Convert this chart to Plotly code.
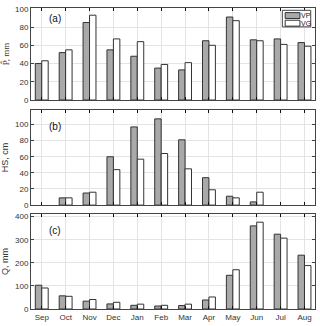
import plotly.graph_objects as go

months = ["Sep", "Oct", "Nov", "Dec", "Jan", "Feb", "Mar", "Apr", "May", "Jun", "Jul", "Aug"]

# precipitation, mm
p_vp = [40, 52, 85, 55, 48, 35, 33, 65, 91, 66, 67, 63]
p_vg = [43, 55, 93, 67, 64, 39, 41, 60, 87, 65, 61, 59]

# snow depth, cm
hs_vp = [0, 9, 15, 60, 97, 107, 81, 34, 11, 4, 0, 0]
hs_vg = [0, 9, 16, 44, 57, 64, 45, 19, 9, 16, 0, 0]

# runoff, mm
q_vp = [103, 57, 34, 22, 16, 13, 15, 39, 146, 360, 324, 233]
q_vg = [91, 55, 41, 29, 21, 16, 21, 52, 170, 376, 307, 188]

series_names = ["VP", "VG"]
bar_colors = ["#a9a9a9", "white"]

panels = [
    (p_vp, p_vg, "(a)", [0, 101], [0, 20, 40, 60, 80, 100]),
    (hs_vp, hs_vg, "(b)", [0, 118], [0, 20, 40, 60, 80, 100]),
    (q_vp, q_vg, "(c)", [0, 412], [0, 100, 200, 300, 400]),
]
domains = [[0.692, 0.997], [0.344, 0.659], [0.0, 0.315]]
label_y = [0.89, 0.825, 0.83]
ytitles = ["P̂, mm", "HS, cm", "Q, mm"]

fig = go.Figure()
edge = "#333333"
for i, (vp, vg, lab, yr, yt) in enumerate(panels):
    n = "" if i == 0 else str(i + 1)
    for vals, name, col in zip([vp, vg], series_names, bar_colors):
        # no outline for empty bars
        lw = [1 if v > 0 else 0 for v in vals]
        fig.add_trace(go.Bar(x=months, y=vals, name=name,
                             marker=dict(color=col, line=dict(color=edge, width=lw)),
                             xaxis="x" + n, yaxis="y" + n, showlegend=False))
    fig.update_layout(**{
        "xaxis" + n: dict(anchor="y" + n, range=[-0.45, 11.44], showticklabels=(i == 2),
                          ticks="inside", ticklen=3, tickcolor="#111", mirror="ticks",
                          showline=True, linecolor="#444", linewidth=1,
                          showgrid=True, gridcolor="#e4e4e4", gridwidth=1,
                          tickfont=dict(size=8, color="#333", family="Liberation Sans")),
        "yaxis" + n: dict(anchor="x" + n, domain=domains[i], range=yr, tickvals=yt,
                          ticks="inside", ticklen=3, tickcolor="#444", mirror="ticks",
                          showline=True, linecolor="#444", linewidth=1,
                          showgrid=True, gridcolor="#e4e4e4", zeroline=False,
                          tickfont=dict(size=8, color="#333", family="Liberation Sans"),
                          title=dict(text=ytitles[i], standoff=4,
                                     font=dict(size=9, color="#333",
                                               family="Liberation Serif" if i == 0 else "Liberation Sans"))),
    })
    fig.add_annotation(text=lab, xref="x" + n + " domain", yref="y" + n + " domain", x=0.083, y=label_y[i],
                       xanchor="center", yanchor="middle",
                       showarrow=False, font=dict(size=10, color="#111", family="Liberation Sans"))

# hand-drawn legend box in panel (a), MATLAB style
fig.add_shape(type="rect", xref="x domain", yref="y domain", x0=0.885, x1=0.985, y0=0.794, y1=0.974,
              line=dict(color="#444", width=1), fillcolor="white")
for k, (name, col) in enumerate(zip(series_names, bar_colors)):
    yc = 0.917 - k * 0.083
    fig.add_shape(type="rect", xref="x domain", yref="y domain", x0=0.895, x1=0.947,
                  y0=yc - 0.032, y1=yc + 0.032, line=dict(color=edge, width=1), fillcolor=col)
    fig.add_annotation(text=name, xref="x domain", yref="y domain", x=0.946, y=yc,
                       xanchor="left", yanchor="middle", borderpad=0,
                       showarrow=False, font=dict(size=7, color="#222", family="Liberation Sans"))

fig.update_layout(
    width=320, height=326,
    margin=dict(l=31, r=4, t=4, b=14),
    barmode="group", bargap=0.46, bargroupgap=0,
    plot_bgcolor="white", paper_bgcolor="white",
    showlegend=False,
)

fig.write_html("out.html", config={"displayModeBar": False},
               post_script="document.body.style.margin='0';")
